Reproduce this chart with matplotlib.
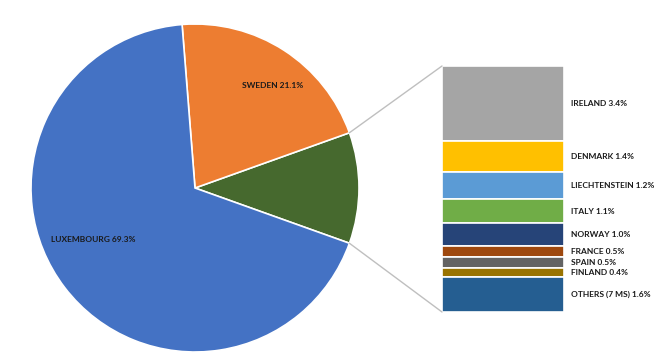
import matplotlib
matplotlib.use("Agg")
import matplotlib.pyplot as plt
from matplotlib.patches import ConnectionPatch
import numpy as np

# Pie data (counter-clockwise from the "other" slice)
pie_labels = ["OTHER", "SWEDEN", "LUXEMBOURG"]
pie_values = [11.1, 21.1, 69.3]
pie_colors = ["#46692E", "#ED7D31", "#4472C4"]

# Breakdown bar (top to bottom)
bar_labels = ["IRELAND", "DENMARK", "LIECHTENSTEIN", "ITALY", "NORWAY",
              "FRANCE", "SPAIN", "FINLAND", "OTHERS (7 MS)"]
bar_values = [3.4, 1.4, 1.2, 1.1, 1.0, 0.5, 0.5, 0.4, 1.6]
bar_colors = ["#A5A5A5", "#FFC000", "#5B9BD5", "#70AD47", "#264478",
              "#9E480E", "#636363", "#997300", "#255E91"]

W, H = 657, 361
fig = plt.figure(figsize=(W / 100, H / 100), dpi=100)
ax = fig.add_axes([0, 0, 1, 1])

FONT = dict(family="Lato", fontweight="bold", fontsize=6, color="#1a1a1a")

cx, cy, r = 195, H - 188, 164
total = sum(pie_values)
start = -pie_values[0] / total * 180
wedges, _ = ax.pie(pie_values, colors=pie_colors, center=(cx, cy), radius=r,
                   startangle=start, counterclock=True,
                   wedgeprops=dict(edgecolor="white", linewidth=1.2))
ax.set_xlim(0, W)
ax.set_ylim(0, H)
ax.set_aspect("equal")
ax.axis("off")

ax.text(273, H - 85, f"{pie_labels[1]} {pie_values[1]}%", ha="center", va="center", **FONT)
ax.text(93, H - 240, f"{pie_labels[2]} {pie_values[2]}%", ha="center", va="center", **FONT)

# bar axes
bx0, by_top, bw, bh = 442, 66, 122, 246
bax = fig.add_axes([bx0 / W, (H - by_top - bh) / H, bw / W, bh / H])
btotal = sum(bar_values)
bottom = btotal
for lab, val, col in zip(bar_labels, bar_values, bar_colors):
    bottom -= val
    bax.bar(0.5, val, width=1, bottom=bottom, color=col, edgecolor="white", linewidth=1.2)
    bax.text(1.057, bottom + val / 2, f"{lab} {val}%", ha="left", va="center",
             clip_on=False, **FONT)
bax.set_xlim(0, 1)
bax.set_ylim(0, btotal)
bax.axis("off")

# connectors
t1 = np.deg2rad(wedges[0].theta1)
t2 = np.deg2rad(wedges[0].theta2)
p_top = (cx + r * np.cos(t2), cy + r * np.sin(t2))
p_bot = (cx + r * np.cos(t1), cy + r * np.sin(t1))
for pA, pB in [(p_top, (0, 1)), (p_bot, (0, 0))]:
    con = ConnectionPatch(xyA=pA, coordsA=ax.transData, xyB=pB, coordsB=bax.transAxes,
                          color="#BFBFBF", linewidth=1.0)
    fig.add_artist(con)

fig.savefig("out.png", dpi=100, facecolor="white")
